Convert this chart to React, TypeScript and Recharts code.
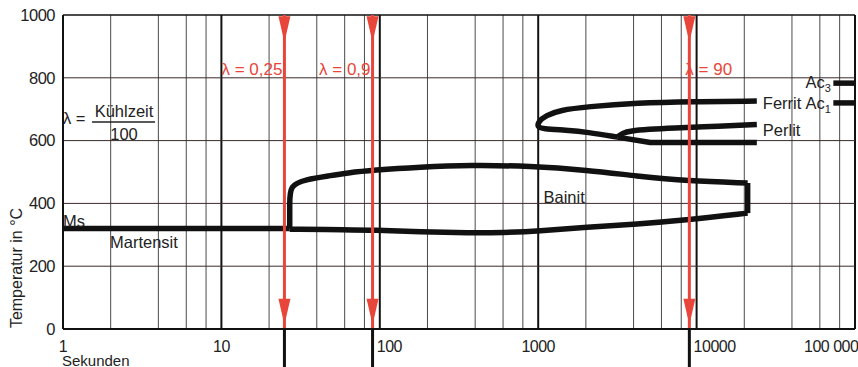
import { ComposedChart, Line, Scatter, XAxis, YAxis, ReferenceLine, ReferenceDot } from "recharts";

// axes
const xTicks = [1, 10, 100, 1000, 10000, 100000];
const xTickLabels = ["1", "10", "100", "1000", "10000", "100 000"];
const yTicks = [0, 200, 400, 600, 800, 1000];
const gridMinor = [2, 4, 6, 8, 20, 40, 60, 80, 200, 400, 600, 800, 2000, 4000, 6000, 8000, 20000, 40000, 60000, 80000];
const gridDecades = [10, 100, 1000, 10000, 100000];
const gridTemps = [200, 400, 600, 800];

// curves (time in s, temperature in °C)
const msTime = [1, 27];
const msTemp = [320, 320];

const bainitUpperTime = [27, 27, 27, 27, 34, 48, 62, 91, 180, 372, 891, 2040, 4200, 8750, 21000];
const bainitUpperTemp = [320, 320, 400, 458, 476, 488, 497, 506, 516, 522, 519, 506, 487, 471, 465];
const bainitEndTime = [21000, 21000];
const bainitEndTemp = [465, 369];
const bainitLowerTime = [21000, 8750, 4200, 2040, 1000, 600, 370, 180, 91, 62, 27];
const bainitLowerTemp = [369, 347, 334, 325, 311, 307, 306, 309, 315, 316, 318];

const ferritTime = [24000, 9550, 4200, 2040, 1370, 1120, 1000, 990, 1060, 1500, 2040, 3160];
const ferritTemp = [726, 724, 720, 708, 697, 680, 660, 643, 638, 633, 627, 611];

const perlitUpperTime = [3160, 3400, 3820, 5000, 6830, 14130, 24000];
const perlitUpperTemp = [611, 624, 631, 636, 640, 646, 651];
const perlitLowerTime = [3160, 5100, 24000];
const perlitLowerTemp = [611, 594, 594];

const ac3Time = [73000, 100000];
const ac3Temp = [783, 783];
const ac1Time = [73000, 100000];
const ac1Temp = [720, 720];

// cooling parameter arrows
const lambdaTime = [25, 90, 9000];
const lambdaLabels = ["λ = 0,25", "λ = 0,9", "λ = 90"];
const lambdaLabelTemp = 828;
const arrowTemp = [955, 55];

// text in the field
const noteText = ["Ms", "Martensit", "Bainit", "Ferrit", "Perlit"];
const noteTime = [1, 1.98, 1080, 26200, 26200];
const noteTemp = [344, 277, 420, 720, 634];

const RED = "#e8463b";
const INK = "#111";

const pts = (ts: number[], vs: number[]) => ts.map((t, i) => ({ t, T: vs[i] }));

const arrowPts = lambdaTime.flatMap((t) => arrowTemp.map((T) => ({ t, T })));

function Triangle({ cx, cy }: any) {
  return <polygon points={`${cx - 6},${cy - 13} ${cx + 6},${cy - 13} ${cx},${cy + 13}`} fill={RED} />;
}

function Curve({ data, type = "basis" }: any) {
  return (
    <Line
      data={data}
      dataKey="T"
      type={type}
      stroke={INK}
      strokeWidth={5.5}
      strokeLinejoin="round"
      dot={false}
      activeDot={false}
      isAnimationActive={false}
    />
  );
}

export default function App() {
  const txt = (s: string) => (p: any) => (
    <text x={p.cx} y={p.cy} dy="0.35em" fontSize={16.5} fill="#222">
      {s}
    </text>
  );

  // tick labels drawn at the axis through the scale; 100, 10000 and 100 000 sit right of / against their line
  const tickLabel = (i: number) => (p: any) => {
    const v = xTicks[i];
    const start = v === 100 || v === 10000;
    const last = i === xTicks.length - 1;
    return (
      <text
        x={p.cx + (last ? -51 : start ? -3 : 0)}
        y={p.cy + 23}
        textAnchor={start || last ? "start" : "middle"}
        fontSize={16}
        fill="#222"
        letterSpacing={-0.5}
      >
        {xTickLabels[i]}
      </text>
    );
  };

  return (
    <div style={{ position: "absolute", left: 0, top: 0, width: 858, height: 367, background: "#fff", fontFamily: "'Liberation Sans', Arial, sans-serif" }}>
      <ComposedChart width={858} height={367} margin={{ top: 15, right: 3, bottom: 0, left: 0 }}>
        <XAxis
          dataKey="t"
          type="number"
          scale="log"
          domain={[1, 100000]}
          ticks={xTicks}
          allowDataOverflow
          height={38}
          tickLine={false}
          tick={false}
          axisLine={{ stroke: INK, strokeWidth: 2 }}
          label={{
            content: ({ viewBox }: any) => (
              <text x={viewBox.x - 1} y={viewBox.y + 37} fontSize={15} fill="#222">
                Sekunden
              </text>
            ),
          }}
        />
        <YAxis
          dataKey="T"
          type="number"
          domain={[0, 1000]}
          ticks={yTicks}
          width={63}
          tickLine={false}
          tickSize={0}
          tickMargin={8}
          axisLine={{ stroke: INK, strokeWidth: 2 }}
          tick={{ fontSize: 16.5, fill: "#222", letterSpacing: -0.5 }}
          label={{
            content: ({ viewBox }: any) => {
              const cx = 16;
              const cy = viewBox.y + viewBox.height / 2 + 96;
              return (
                <text x={cx} y={cy} transform={`rotate(-90 ${cx} ${cy})`} textAnchor="middle" dy="0.35em" fontSize={16} fill="#222">
                  Temperatur in °C
                </text>
              );
            },
          }}
        />

        {gridMinor.map((v) => (
          <ReferenceLine key={`m${v}`} x={v} stroke="#4a4a4a" strokeWidth={1} />
        ))}
        {gridDecades.map((v) => (
          <ReferenceLine key={`d${v}`} x={v} stroke={INK} strokeWidth={2} />
        ))}
        {gridTemps.map((v) => (
          <ReferenceLine key={`h${v}`} y={v} stroke="#3b2b2b" strokeWidth={1} />
        ))}
        <ReferenceLine y={1000} stroke={INK} strokeWidth={1.5} />

        {Curve({ data: pts(msTime, msTemp), type: "linear" })}
        {Curve({ data: pts(bainitUpperTime, bainitUpperTemp) })}
        {Curve({ data: pts(bainitEndTime, bainitEndTemp), type: "linear" })}
        {Curve({ data: pts(bainitLowerTime, bainitLowerTemp) })}
        {Curve({ data: pts(ferritTime, ferritTemp) })}
        {Curve({ data: pts(perlitUpperTime, perlitUpperTemp) })}
        {Curve({ data: pts(perlitLowerTime, perlitLowerTemp), type: "linear" })}
        {Curve({ data: pts(ac3Time, ac3Temp), type: "linear" })}
        {Curve({ data: pts(ac1Time, ac1Temp), type: "linear" })}

        {lambdaTime.map((t) => (
          <ReferenceLine key={`r${t}`} x={t} stroke={RED} strokeWidth={3} />
        ))}
        {lambdaTime.map((t) => (
          <ReferenceLine
            key={`b${t}`}
            segment={[{ x: t, y: 0 }, { x: t, y: -130 }]}
            ifOverflow="visible"
            stroke={INK}
            strokeWidth={3}
          />
        ))}
        <Scatter data={arrowPts} dataKey="T" shape={<Triangle />} isAnimationActive={false} />

        {lambdaTime.map((t, i) => (
          <ReferenceDot
            key={`l${t}`}
            x={t}
            y={lambdaLabelTemp}
            r={0}
            ifOverflow="visible"
            shape={(p: any) => (
              <text x={p.cx + (i === 2 ? -4 : -2)} y={p.cy} dy="0.35em" textAnchor={i === 2 ? "start" : "end"} fontSize={17} fill={RED}>
                {lambdaLabels[i]}
              </text>
            )}
          />
        ))}

        {xTicks.map((v, i) => (
          <ReferenceDot key={`x${v}`} x={v} y={0} r={0} ifOverflow="visible" shape={tickLabel(i)} />
        ))}

        {noteText.map((s, i) => (
          <ReferenceDot key={s} x={noteTime[i]} y={noteTemp[i]} r={0} ifOverflow="visible" shape={txt(s)} />
        ))}

        <ReferenceDot
          x={70500}
          y={787}
          r={0}
          ifOverflow="visible"
          shape={(p: any) => (
            <text x={p.cx} y={p.cy} dy="0.35em" textAnchor="end" fontSize={16.5} fill="#222">
              Ac<tspan fontSize={11} dy="4">3</tspan>
            </text>
          )}
        />
        <ReferenceDot
          x={70500}
          y={720}
          r={0}
          ifOverflow="visible"
          shape={(p: any) => (
            <text x={p.cx} y={p.cy} dy="0.35em" textAnchor="end" fontSize={16.5} fill="#222">
              Ac<tspan fontSize={11} dy="4">1</tspan>
            </text>
          )}
        />

        <ReferenceDot
          x={1}
          y={672}
          r={0}
          ifOverflow="visible"
          shape={(p: any) => (
            <g fontSize={16.5} fill="#222">
              <text x={p.cx} y={p.cy} dy="0.35em">λ =</text>
              <text x={p.cx + 61} y={p.cy - 1} textAnchor="middle">Kühlzeit</text>
              <line x1={p.cx + 29} x2={p.cx + 92} y1={p.cy + 4} y2={p.cy + 4} stroke="#222" strokeWidth={1.5} />
              <text x={p.cx + 61} y={p.cy + 22} textAnchor="middle">100</text>
            </g>
          )}
        />
      </ComposedChart>
    </div>
  );
}
